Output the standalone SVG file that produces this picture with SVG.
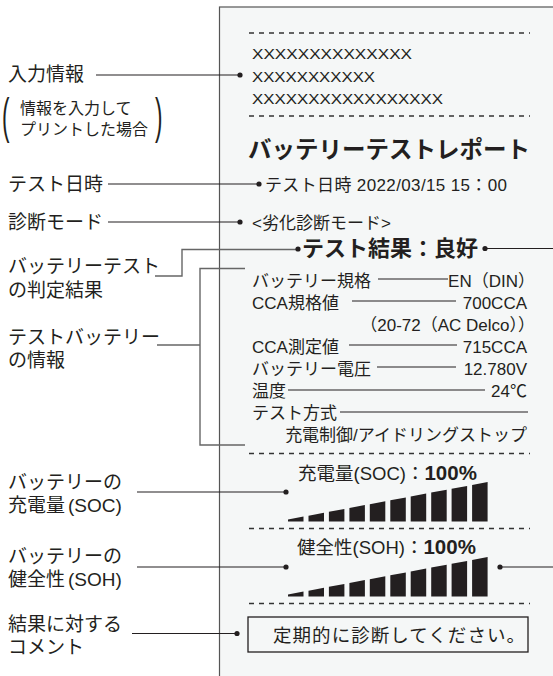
<svg xmlns="http://www.w3.org/2000/svg" width="553" height="676" viewBox="0 0 553 676">
<style>
text { font-family: "Liberation Sans", "Noto Sans CJK JP", sans-serif; fill: #231f20; }
.lab { font-size: 19px; }
.sub { font-size: 16px; }
.par { font-size: 50px; font-family: "Liberation Sans", sans-serif; }
.t17 { font-size: 17px; }
.xs { font-size: 15.5px; }
.title { font-size: 23.5px; font-weight: 700; font-family: "Noto Sans CJK JP", sans-serif; }
.res { font-size: 22px; font-weight: 700; font-family: "Noto Sans CJK JP", sans-serif; }
.meter { font-size: 18.5px; }
.b { font-weight: 700; font-size: 20.5px; }
.end { text-anchor: end; }
.ln { stroke: #231f20; stroke-width: 1.2; fill: none; }
.gl { stroke: #666; stroke-width: 1.4; fill: none; }
.dash { stroke: #333; stroke-width: 1.3; stroke-dasharray: 5 5; fill: none; }
.dot { fill: #231f20; }
.bar { fill: #231f20; }
</style>
<defs>
<g id="bars">
<polygon points="288,521.5 288,519.5 303.5,516.6 303.5,521.5"/>
<polygon points="308.5,521.5 308.5,515.7 324,512.8 324,521.5"/>
<polygon points="328.9,521.5 328.9,511.8 344.4,508.9 344.4,521.5"/>
<polygon points="349.4,521.5 349.4,508 364.9,505.1 364.9,521.5"/>
<polygon points="369.8,521.5 369.8,504.2 385.3,501.3 385.3,521.5"/>
<polygon points="390.3,521.5 390.3,500.3 405.8,497.4 405.8,521.5"/>
<polygon points="410.7,521.5 410.7,496.5 426.2,493.6 426.2,521.5"/>
<polygon points="431.2,521.5 431.2,492.6 446.7,489.7 446.7,521.5"/>
<polygon points="451.6,521.5 451.6,488.8 467.1,485.9 467.1,521.5"/>
<polygon points="472.1,521.5 472.1,485 487.6,482.1 487.6,521.5"/>
</g>
</defs>
<rect width="553" height="676" fill="#ffffff"/>

<g id="paper">
<rect x="219.5" y="7" width="400" height="700" fill="#f5f7f7" stroke="#555" stroke-width="1.2"/>
<line class="dash" x1="249" y1="33" x2="530" y2="33"/>
<line class="dash" x1="249" y1="116" x2="530" y2="116"/>
<line class="dash" x1="249" y1="453.5" x2="530" y2="453.5"/>
<line class="dash" x1="249" y1="528.5" x2="530" y2="528.5"/>
<line class="dash" x1="249" y1="603.5" x2="530" y2="603.5"/>
</g>

<g id="input-info">
<text class="xs" x="252" y="58.5" textLength="160" lengthAdjust="spacingAndGlyphs">XXXXXXXXXXXXXX</text>
<text class="xs" x="252" y="81.5" textLength="123" lengthAdjust="spacingAndGlyphs">XXXXXXXXXXX</text>
<text class="xs" x="252" y="103.5" textLength="191" lengthAdjust="spacingAndGlyphs">XXXXXXXXXXXXXXXXX</text>
</g>

<g id="title"><text class="title" x="248" y="158">バッテリーテストレポート</text></g>

<g id="date"><text class="t17" x="265" y="190.5" textLength="242">テスト日時 2022/03/15 15：00</text></g>

<g id="mode"><text class="t17" x="252" y="228.5">&lt;劣化診断モード&gt;</text></g>

<g id="result"><text class="res" x="302" y="256" textLength="176">テスト結果：良好</text></g>

<g id="battery-info">
<text class="t17" x="252" y="287">バッテリー規格</text>
<text class="t17 end" x="535" y="287">EN（DIN）</text>
<text class="t17" x="252" y="309">CCA規格値</text>
<text class="t17 end" x="527" y="309">700CCA</text>
<text class="t17 end" x="535" y="331">（20-72（AC Delco））</text>
<text class="t17" x="252" y="353">CCA測定値</text>
<text class="t17 end" x="527" y="353">715CCA</text>
<text class="t17" x="252" y="375">バッテリー電圧</text>
<text class="t17 end" x="527" y="375">12.780V</text>
<text class="t17" x="252" y="397">温度</text>
<text class="t17 end" x="527" y="397">24℃</text>
<text class="t17" x="252" y="419">テスト方式</text>
<text class="t17 end" x="527" y="441">充電制御/アイドリングストップ</text>
<line class="ln" x1="378" y1="279" x2="448" y2="279"/>
<line class="ln" x1="352" y1="301" x2="456" y2="301"/>
<line class="ln" x1="349" y1="345" x2="457" y2="345"/>
<line class="ln" x1="377" y1="367" x2="456" y2="367"/>
<line class="ln" x1="288" y1="390" x2="485" y2="390"/>
<line class="ln" x1="340" y1="412" x2="528" y2="412"/>
</g>

<g id="soc">
<text class="meter" x="298" y="480">充電量(SOC)：<tspan class="b">100%</tspan></text>
<use href="#bars" class="bar"/>
</g>

<g id="soh">
<text class="meter" x="297" y="554">健全性(SOH)：<tspan class="b">100%</tspan></text>
<use href="#bars" class="bar" transform="translate(0,75)"/>
</g>

<g id="comment">
<rect x="248" y="617" width="280" height="35" fill="none" stroke="#231f20" stroke-width="1.3"/>
<text x="273" y="641.5" style="font-size:18.5px" textLength="252">定期的に診断してください。</text>
</g>

<g id="label-input">
<text class="lab" x="8" y="81">入力情報</text>
<text class="par" x="0" y="133" transform="translate(2,0) scale(0.45,1)">(</text>
<text class="sub" x="20" y="114">情報を入力して</text>
<text class="sub" x="20" y="135">プリントした場合</text>
<text class="par" x="0" y="133" transform="translate(155,0) scale(0.45,1)">)</text>
</g>
<g id="label-date"><text class="lab" x="8" y="191">テスト日時</text></g>
<g id="label-mode"><text class="lab" x="8" y="229">診断モード</text></g>
<g id="label-result"><text class="lab" x="8" y="273">バッテリーテスト</text><text class="lab" x="8" y="297">の判定結果</text></g>
<g id="label-battery"><text class="lab" x="8" y="344">テストバッテリー</text><text class="lab" x="8" y="367">の情報</text></g>
<g id="label-soc"><text class="lab" x="8" y="489">バッテリーの</text><text class="lab" x="8" y="512">充電量<tspan dx="3">(SOC)</tspan></text></g>
<g id="label-soh"><text class="lab" x="8" y="563">バッテリーの</text><text class="lab" x="8" y="586">健全性<tspan dx="3">(SOH)</tspan></text></g>
<g id="label-comment"><text class="lab" x="8" y="631">結果に対する</text><text class="lab" x="8" y="654">コメント</text></g>

<g id="connectors">
<line class="ln" x1="96" y1="75" x2="240" y2="75"/>
<circle class="dot" cx="240" cy="75" r="2.6"/>
<line class="ln" x1="108" y1="184" x2="259" y2="184"/>
<circle class="dot" cx="259" cy="184" r="2.6"/>
<line class="ln" x1="108" y1="222" x2="240" y2="222"/>
<circle class="dot" cx="240" cy="222" r="2.6"/>
<polyline class="gl" points="155,276 182,276 182,249.5 298,249.5"/>
<circle class="dot" cx="298" cy="249" r="2.6"/>
<circle class="dot" cx="485" cy="248.5" r="2.6"/>
<line class="ln" x1="485" y1="248.5" x2="553" y2="248.5"/>
<line class="gl" x1="157" y1="345" x2="200" y2="345"/>
<polyline class="gl" points="245,268.5 200,268.5 200,445 245,445"/>
<line class="ln" x1="137" y1="492" x2="286" y2="492"/>
<circle class="dot" cx="286" cy="492" r="2.6"/>
<line class="ln" x1="137" y1="567" x2="286" y2="567"/>
<circle class="dot" cx="286" cy="567" r="2.6"/>
<circle class="dot" cx="500" cy="567" r="2.6"/>
<line class="ln" x1="500" y1="567" x2="553" y2="567"/>
<line class="ln" x1="132" y1="633.5" x2="237" y2="633.5"/>
<circle class="dot" cx="237" cy="633.5" r="2.6"/>
</g>
</svg>
